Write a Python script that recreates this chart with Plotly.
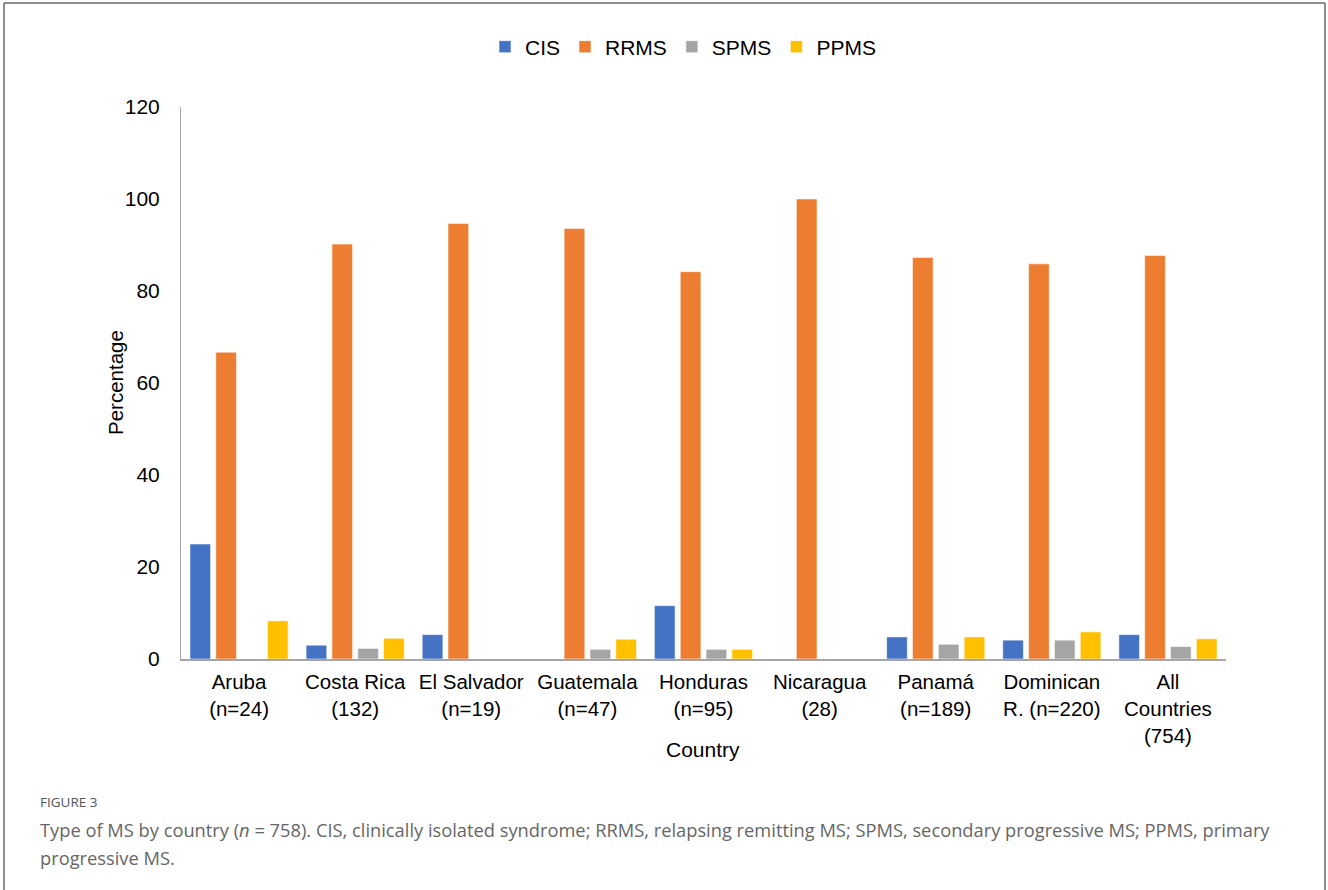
import plotly.graph_objects as go

# ---- data ----
countries = ["Aruba<br>(n=24)", "Costa Rica<br>(132)", "El Salvador<br>(n=19)",
             "Guatemala<br>(n=47)", "Honduras<br>(n=95)", "Nicaragua<br>(28)",
             "Panamá<br>(n=189)", "Dominican<br>R. (n=220)", "All<br>Countries<br>(754)"]
cis = [25.0, 3.0, 5.3, 0, 11.6, 0, 4.8, 4.1, 5.3]
rrms = [66.7, 90.2, 94.7, 93.6, 84.2, 100, 87.3, 85.9, 87.7]
spms = [0, 2.3, 0, 2.1, 2.1, 0, 3.2, 4.1, 2.7]
ppms = [8.3, 4.5, 0, 4.3, 2.1, 0, 4.8, 5.9, 4.4]
series_names = ["CIS", "RRMS", "SPMS", "PPMS"]
series_colors = ["#4472C4", "#ED7D31", "#A5A5A5", "#FFC000"]
y_ticks = [0, 20, 40, 60, 80, 100, 120]

W, H = 1328, 890
L, R, T, B = 181, 1226, 107, 659   # plot area in pixels


def px_x(px):
    return (px - L) / (R - L)


def px_y(py):
    return (B - py) / (B - T)


FONT = "Liberation Sans, Arial, sans-serif"
CAPFONT = "Open Sans, sans-serif"

fig = go.Figure()
for name, vals, col in zip(series_names, [cis, rrms, spms, ppms], series_colors):
    fig.add_trace(go.Bar(
        x=countries, y=vals, name=name,
        marker=dict(color=col, line=dict(color="rgba(255,255,255,0.55)", width=1)),
    ))

fig.update_layout(
    width=W, height=H,
    margin=dict(l=L, r=W - R, t=T, b=H - B, autoexpand=False),
    paper_bgcolor="white", plot_bgcolor="white",
    barmode="group", bargap=0.11, bargroupgap=0.2,
    font=dict(family=FONT, size=21, color="#000000"),
    showlegend=True,
    legend=dict(orientation="h", x=px_x(683), xanchor="center", y=px_y(47), yanchor="middle",
                font=dict(size=21, family=FONT, color="#000"), itemwidth=30,
                traceorder="normal", bgcolor="rgba(0,0,0,0)", itemclick=False),
    xaxis=dict(showline=True, linecolor="#A6A6A6", linewidth=1.5, ticks="",
               showgrid=False, zeroline=False, tickfont=dict(size=20.5, family=FONT),
               ticklabelstandoff=4),
    yaxis=dict(range=[0, 120], tickvals=y_ticks, showline=True, linecolor="#A6A6A6",
               linewidth=1, ticks="", showgrid=False, zeroline=False,
               tickfont=dict(size=21, family=FONT), ticklabelstandoff=16),
    annotations=[
        dict(text="Percentage", textangle=-90, xref="paper", yref="paper",
             x=px_x(115), y=px_y(383), xanchor="center", yanchor="middle",
             showarrow=False, font=dict(size=20.5, family=FONT, color="#000")),
        dict(text="Country", xref="paper", yref="paper",
             x=px_x(703), y=px_y(749), xanchor="center", yanchor="middle",
             showarrow=False, font=dict(size=21, family=FONT, color="#000")),
        dict(text="FIGURE 3", xref="paper", yref="paper",
             x=px_x(38), y=px_y(802), xanchor="left", yanchor="middle",
             showarrow=False, font=dict(size=13.5, family=CAPFONT, color="#555555")),
        dict(text="Type of MS by country (<i>n</i> = 758). CIS, clinically isolated syndrome; RRMS, "
                  "relapsing remitting MS; SPMS, secondary progressive MS; PPMS, primary",
             xref="paper", yref="paper", x=px_x(38), y=px_y(829), xanchor="left", yanchor="middle",
             showarrow=False, font=dict(size=18.3, family=CAPFONT, color="#666666")),
        dict(text="progressive MS.",
             xref="paper", yref="paper", x=px_x(38), y=px_y(857), xanchor="left", yanchor="middle",
             showarrow=False, font=dict(size=18.3, family=CAPFONT, color="#666666")),
    ],
    shapes=[
        dict(type="line", xref="paper", yref="paper", x0=px_x(4), x1=px_x(4), y0=px_y(3), y1=px_y(H),
             line=dict(color="#6b6b6b", width=1.5)),
        dict(type="line", xref="paper", yref="paper", x0=px_x(4), x1=px_x(1325), y0=px_y(3), y1=px_y(3),
             line=dict(color="#6b6b6b", width=1.5)),
        dict(type="line", xref="paper", yref="paper", x0=px_x(1325), x1=px_x(1325), y0=px_y(3), y1=px_y(H),
             line=dict(color="#6b6b6b", width=1.5)),
    ],
)

fig.write_html("out.html")
